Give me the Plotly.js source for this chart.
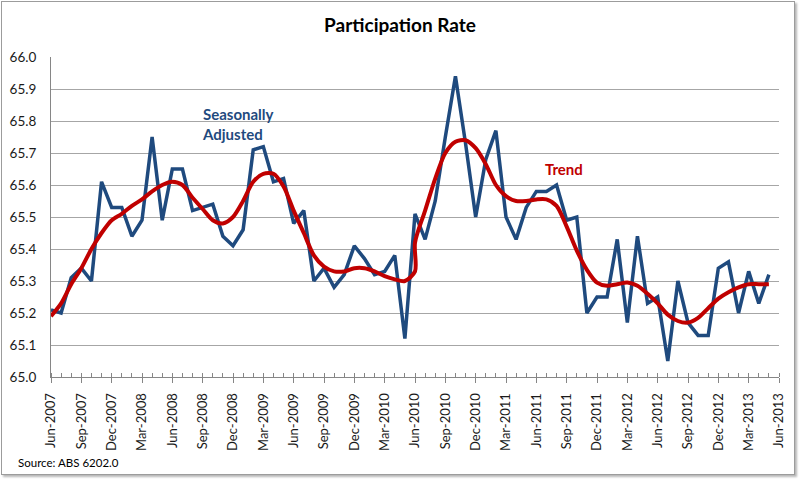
<!DOCTYPE html>
<html>
<head>
<meta charset="utf-8">
<script src="https://cdn.plot.ly/plotly-3.0.1.min.js"></script>
<style>
  html, body { margin: 0; padding: 0; background: #fff; }
  #chart { position: absolute; left: 0; top: 0; width: 800px; height: 481px; }
  #frame { position: absolute; left: 1px; top: 1px; width: 792px; height: 472px;
           border: 1px solid #9c9c9c; box-shadow: 2px 2px 2px #b8b8b8; pointer-events: none; }
</style>
</head>
<body>
<div id="chart"></div>
<div id="frame"></div>
<script>
// Tick labels, every 3 months from Jun-2007 to Jun-2013
const tickLabels = ['Jun-2007','Sep-2007','Dec-2007','Mar-2008','Jun-2008','Sep-2008','Dec-2008',
  'Mar-2009','Jun-2009','Sep-2009','Dec-2009','Mar-2010','Jun-2010','Sep-2010','Dec-2010',
  'Mar-2011','Jun-2011','Sep-2011','Dec-2011','Mar-2012','Jun-2012','Sep-2012','Dec-2012',
  'Mar-2013','Jun-2013'];

// Seasonally adjusted participation rate, monthly Jun-2007 .. May-2013
const seasonallyAdjusted = [65.21,65.20,65.31,65.34,65.30,65.61,65.53,65.53,65.44,65.49,65.75,65.49,
  65.65,65.65,65.52,65.53,65.54,65.44,65.41,65.46,65.71,65.72,65.61,65.62,
  65.48,65.52,65.30,65.34,65.28,65.32,65.41,65.37,65.32,65.33,65.38,65.12,
  65.51,65.43,65.55,65.75,65.94,65.73,65.50,65.68,65.77,65.50,65.43,65.53,
  65.58,65.58,65.60,65.49,65.50,65.20,65.25,65.25,65.43,65.17,65.44,65.23,
  65.25,65.05,65.30,65.17,65.13,65.13,65.34,65.36,65.20,65.33,65.23,65.32];

// Trend, Jun-2007 .. Jun-2010 (old basis)
const trendOld = [65.19,65.23,65.29,65.34,65.40,65.45,65.49,65.51,65.535,65.555,65.58,65.60,
  65.61,65.60,65.56,65.525,65.49,65.48,65.50,65.55,65.61,65.635,65.635,65.595,
  65.52,65.45,65.38,65.345,65.33,65.33,65.34,65.34,65.33,65.315,65.305,65.30,65.33];
// Trend, Jun-2010 .. May-2013 (new basis)
const trendNew = [65.42,65.52,65.62,65.70,65.735,65.74,65.715,65.665,65.60,65.565,65.55,65.55,
  65.555,65.555,65.535,65.47,65.395,65.335,65.295,65.285,65.29,65.295,65.285,65.26,
  65.23,65.195,65.175,65.17,65.185,65.215,65.245,65.265,65.28,65.29,65.29,65.29];

const saX = seasonallyAdjusted.map((_, i) => i);
const breakIdx = trendOld.length - 1;
const trendX = trendOld.map((_, i) => i).concat(trendNew.map((_, i) => breakIdx + i));
const trendY = trendOld.concat(trendNew);
const tickVals = tickLabels.map((_, i) => i * 3);

const FONT = 'Lato, "Open Sans", sans-serif';

const traces = [
  { x: saX, y: seasonallyAdjusted, type: 'scatter', mode: 'lines', name: 'Seasonally Adjusted',
    line: { color: '#1F4A7E', width: 3.5, shape: 'linear' }, hoverinfo: 'y' },
  { x: trendX, y: trendY, type: 'scatter', mode: 'lines', name: 'Trend',
    line: { color: '#C00000', width: 4, shape: 'spline', smoothing: 0.8 }, hoverinfo: 'y' }
];

const layout = {
  width: 800, height: 481,
  margin: { l: 51, r: 21, t: 57, b: 104 },
  paper_bgcolor: 'rgba(0,0,0,0)', plot_bgcolor: '#ffffff',
  showlegend: false,
  font: { family: FONT, color: '#1a1a1a' },
  title: { text: '<b>Participation Rate</b>', x: 0.5, xanchor: 'center', y: 0.948, yanchor: 'middle',
           font: { family: FONT, size: 19, color: '#000' } },
  xaxis: {
    range: [0, 72], tickmode: 'array', tickvals: tickVals, ticktext: tickLabels,
    tickangle: -90, ticks: 'outside', ticklen: 5, tickcolor: '#868686', tickwidth: 1,
    showline: true, linecolor: '#868686', linewidth: 1, showgrid: false, zeroline: false,
    tickfont: { family: FONT, size: 13, color: '#1a1a1a' }, ticklabelstandoff: 5,
    minor: { tickmode: 'linear', tick0: 0, dtick: 1, ticks: 'inside', ticklen: 4, tickcolor: '#868686', showgrid: false }
  },
  yaxis: {
    range: [65.0, 66.0], dtick: 0.1, tick0: 65.0, tickformat: '.1f',
    ticks: '', showline: true, linecolor: '#868686', linewidth: 1,
    showgrid: true, gridcolor: '#A6A6A6', gridwidth: 1, zeroline: false,
    tickfont: { family: FONT, size: 13.5, color: '#1a1a1a' }, ticklabelstandoff: 11
  },
  annotations: [
    { text: '<b>Seasonally</b><br><b>Adjusted</b>', xref: 'paper', yref: 'paper',
      x: (200 - 51) / 728, y: (377 - 124) / 320, xanchor: 'left', yanchor: 'middle', align: 'left',
      showarrow: false, font: { family: FONT, size: 15, color: '#1F4A7E' } },
    { text: '<b>Trend</b>', xref: 'paper', yref: 'paper',
      x: (543 - 51) / 728, y: (377 - 169) / 320, xanchor: 'left', yanchor: 'middle',
      showarrow: false, font: { family: FONT, size: 15, color: '#C00000' } },
    { text: 'Source: ABS 6202.0', xref: 'paper', yref: 'paper',
      x: (16 - 51) / 728, y: (377 - 462) / 320, xanchor: 'left', yanchor: 'middle',
      showarrow: false, font: { family: FONT, size: 11.5, color: '#000' } }
  ]
};

Plotly.newPlot('chart', traces, layout, { staticPlot: true, displayModeBar: false });
</script>
</body>
</html>
